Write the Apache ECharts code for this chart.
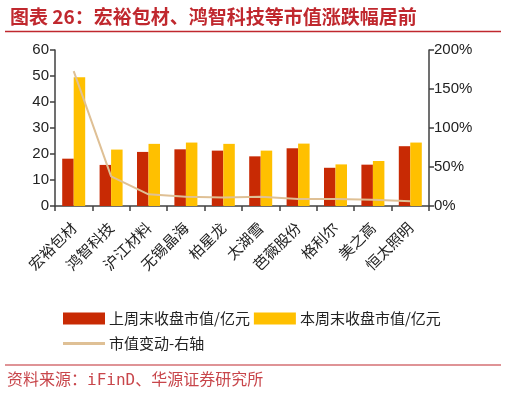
<!DOCTYPE html>
<html>
<head>
<meta charset="utf-8">
<script src="https://cdn.jsdelivr.net/npm/echarts@6/dist/echarts.min.js"></script>
<style>
  html, body { margin: 0; padding: 0; background: #fff; }
  #chart { width: 506px; height: 398px; }
</style>
</head>
<body>
<div id="chart"></div>
<script>
// 数据
const categories = ['宏裕包材', '鸿智科技', '沪江材料', '无锡晶海', '柏星龙', '太湖雪', '芭薇股份', '格利尔', '美之高', '恒太照明'];
const lastWeek = [18.2, 15.8, 20.8, 21.8, 21.3, 19.1, 22.2, 14.7, 15.9, 23.0];
const thisWeek = [49.5, 21.7, 23.9, 24.4, 23.9, 21.3, 24.0, 16.0, 17.3, 24.4];
const changePct = [173, 38, 15, 12, 11, 12, 9, 9, 8, 6];
const leftTicks = { min: 0, max: 60, interval: 10 };
const rightTicks = { min: 0, max: 200, interval: 50 };

const RED = '#c0282e';
const FONT = '"Noto Sans CJK SC", "Liberation Sans", sans-serif';
const AXIS_COLOR = '#404040';

const chart = echarts.init(document.getElementById('chart'));

chart.setOption({
    animation: false,
    backgroundColor: '#fff',
    textStyle: { fontFamily: FONT },
    title: {
        text: '图表 26：宏裕包材、鸿智科技等市值涨跌幅居前',
        left: 5,
        top: 2,
        textStyle: { color: RED, fontSize: 19, fontWeight: 'bold', fontFamily: FONT }
    },
    graphic: [
        { type: 'line', shape: { x1: 5, y1: 31.5, x2: 501, y2: 31.5 }, style: { stroke: RED, lineWidth: 1.5 } },
        { type: 'line', shape: { x1: 5, y1: 365, x2: 501, y2: 365 }, style: { stroke: RED, lineWidth: 1.2 } },
        {
            type: 'text', left: 7, top: 373,
            style: { text: '资料来源：iFinD、华源证券研究所', fill: '#c8464b', font: '16px "DejaVu Sans Mono", "Noto Sans CJK SC", monospace' }
        }
    ],
    legend: [
        {
            data: ['上周末收盘市值/亿元', '本周末收盘市值/亿元'],
            left: 58, top: 306,
            itemWidth: 42, itemHeight: 12, itemGap: 4,
            icon: 'rect',
            textStyle: { fontSize: 15, color: '#222', fontFamily: FONT, padding: [0, 0, 0, -1] }
        },
        {
            data: ['市值变动-右轴'],
            left: 58, top: 331,
            itemWidth: 42, itemHeight: 3,
            icon: 'rect',
            textStyle: { fontSize: 15, color: '#222', fontFamily: FONT, padding: [0, 0, 0, -1] }
        }
    ],
    grid: { left: 55, right: 77, top: 50, bottom: 192, containLabel: false },
    xAxis: {
        type: 'category',
        data: categories,
        axisLine: { lineStyle: { color: AXIS_COLOR, width: 1.5 } },
        axisTick: { show: true, inside: false, length: 5, alignWithLabel: false, lineStyle: { color: AXIS_COLOR, width: 1.5 } },
        axisLabel: { interval: 0, rotate: 45, fontSize: 15, color: '#222', margin: 19, fontFamily: FONT }
    },
    yAxis: [
        {
            type: 'value',
            min: leftTicks.min, max: leftTicks.max, interval: leftTicks.interval,
            axisLine: { show: true, lineStyle: { color: AXIS_COLOR, width: 1.5 } },
            axisTick: { show: true, length: 5, lineStyle: { color: AXIS_COLOR, width: 1.5 } },
            axisLabel: { fontSize: 15, color: '#222', margin: 6, fontFamily: '"Liberation Sans", sans-serif' },
            splitLine: { show: false }
        },
        {
            type: 'value',
            position: 'right',
            min: rightTicks.min, max: rightTicks.max, interval: rightTicks.interval,
            axisLine: { show: true, lineStyle: { color: AXIS_COLOR, width: 1.5 } },
            axisTick: { show: true, length: 5, lineStyle: { color: AXIS_COLOR, width: 1.5 } },
            axisLabel: { fontSize: 15, color: '#222', margin: 5, formatter: '{value}%', fontFamily: '"Liberation Sans", sans-serif' },
            splitLine: { show: false }
        }
    ],
    series: [
        {
            name: '上周末收盘市值/亿元',
            type: 'bar',
            data: lastWeek,
            barWidth: 11.5,
            barGap: '0%',
            itemStyle: { color: '#c82a04' }
        },
        {
            name: '本周末收盘市值/亿元',
            type: 'bar',
            data: thisWeek,
            barWidth: 11.5,
            itemStyle: { color: '#ffc000' }
        },
        {
            name: '市值变动-右轴',
            type: 'line',
            yAxisIndex: 1,
            data: changePct,
            symbol: 'none',
            z: 5,
            lineStyle: { color: '#dfc095', width: 2 },
            itemStyle: { color: '#dfc095' }
        }
    ]
});
</script>
</body>
</html>
